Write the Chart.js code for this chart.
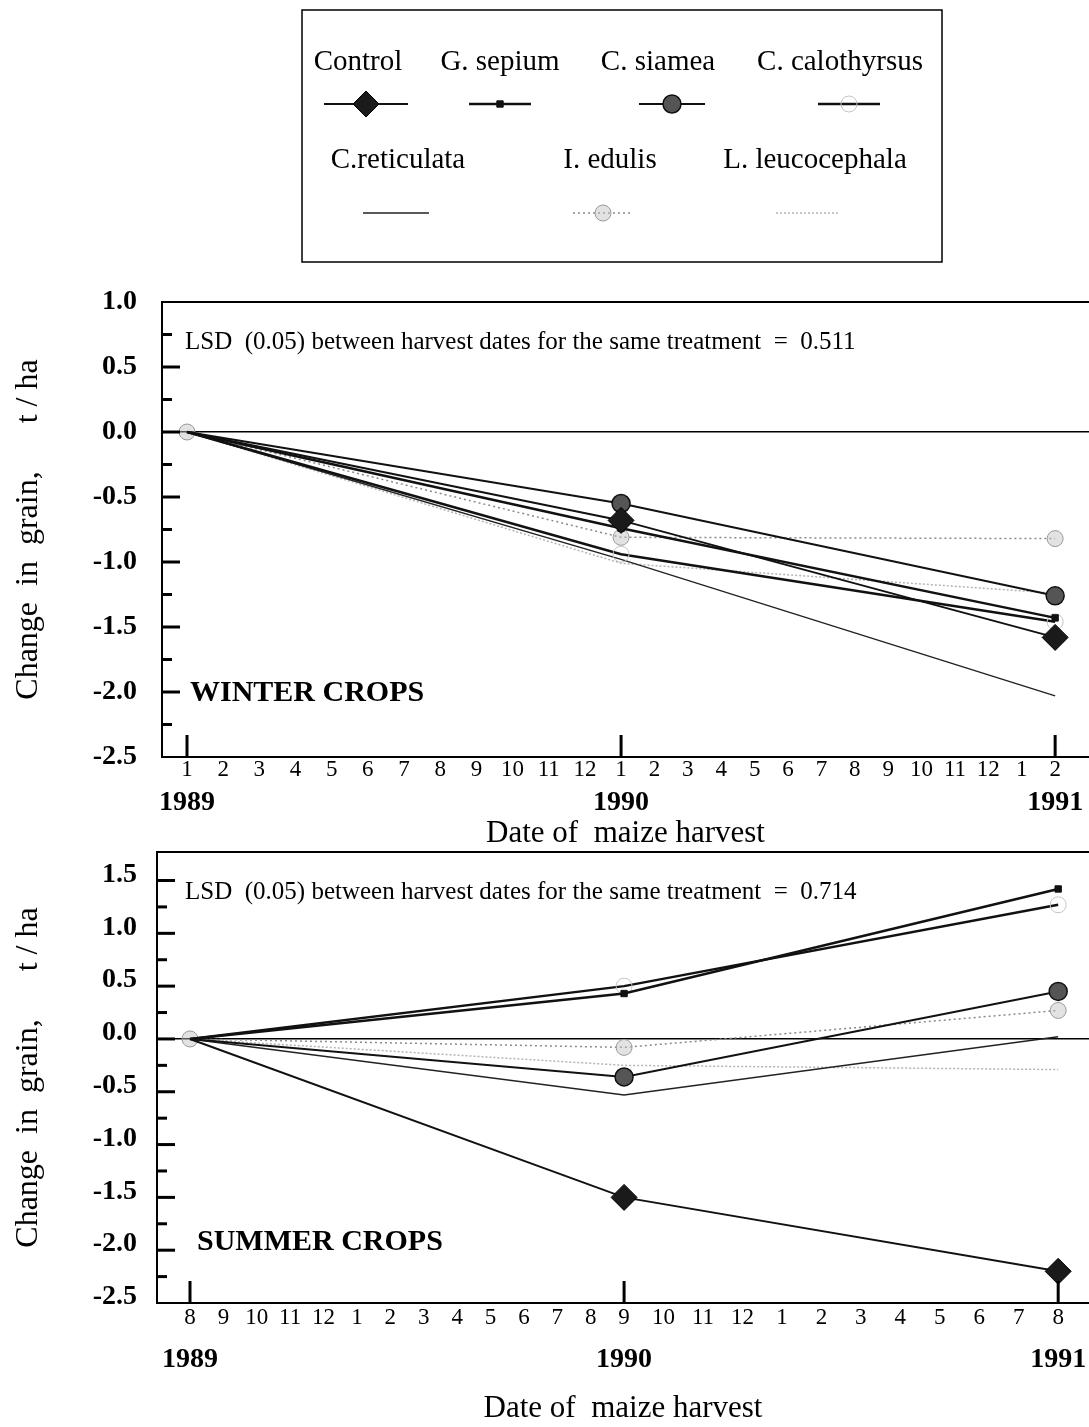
<!DOCTYPE html>
<html><head><meta charset="utf-8">
<script src="https://cdn.jsdelivr.net/npm/chart.js@4/dist/chart.umd.min.js"></script>
<style>
html,body{margin:0;padding:0;background:#fff;}
#wrap{position:relative;width:1089px;height:1427px;overflow:hidden;background:#fff;}
canvas{position:absolute;left:0;}
#c1{top:0;}
#c2{top:812px;}
</style></head><body>
<div id="wrap">
<canvas id="c1" width="1089" height="852"></canvas>
<canvas id="c2" width="1089" height="615"></canvas>
</div>
<script>
// ---------- DATA ----------
const seriesNames = ['Control','G. sepium','C. siamea','C. calothyrsus','C.reticulata','I. edulis','L. leucocephala'];
const harvestIndex = [0, 1, 2];
const yearLabels = ['1989', '1990', '1991'];

// Winter crops: change in grain (t/ha) at harvests 1989, 1990, 1991
const winterControl       = [0, -0.68, -1.58];
const winterGSepium       = [0, -0.74, -1.43];
const winterCSiamea       = [0, -0.55, -1.26];
const winterCCalothyrsus  = [0, -0.94, -1.46];
const winterCReticulata   = [0, -0.98, -2.03];
const winterIEdulis       = [0, -0.81, -0.82];
const winterLLeucocephala = [0, -1.01, -1.24];

// Summer crops
const summerControl       = [0, -1.50, -2.20];
const summerGSepium       = [0, 0.43, 1.42];
const summerCSiamea       = [0, -0.36, 0.45];
const summerCCalothyrsus  = [0, 0.50, 1.27];
const summerCReticulata   = [0, -0.53, 0.02];
const summerIEdulis       = [0, -0.08, 0.27];
const summerLLeucocephala = [0, -0.25, -0.29];

// Month tick labels (two spans between the three harvests)
const winterMonthsSpan1 = ['1','2','3','4','5','6','7','8','9','10','11','12'];
const winterMonthsSpan2 = ['1','2','3','4','5','6','7','8','9','10','11','12','1','2'];
const summerMonthsSpan1 = ['8','9','10','11','12','1','2','3','4','5','6','7','8'];
const summerMonthsSpan2 = ['9','10','11','12','1','2','3','4','5','6','7','8'];

const winterLSD = 'LSD  (0.05) between harvest dates for the same treatment  =  0.511';
const summerLSD = 'LSD  (0.05) between harvest dates for the same treatment  =  0.714';

// ---------- STYLES ----------
const seriesStyles = [
  {color:'#111', width:2,   dash:[], point:'rectRot', r:13, fill:'#1a1a1a', pBorder:'#000', pbw:1, first:false},
  {color:'#111', width:2.5, dash:[], point:'rect',    r:4.5, fill:'#111', pBorder:'#111', pbw:1, first:false},
  {color:'#111', width:2,   dash:[], point:'circle',  r:9, fill:'#555', pBorder:'#111', pbw:1.5, first:false},
  {color:'#111', width:2.5, dash:[], point:'circle',  r:8, fill:'rgba(0,0,0,0)', pBorder:'#c4c4c4', pbw:1, first:false},
  {color:'#222', width:1.5, dash:[], point:'circle',  r:0, fill:'#222', pBorder:'#222', pbw:0, first:false},
  {color:'#8a8a8a', width:1.5, dash:[2,3], point:'circle', r:8, fill:'rgba(190,190,190,0.45)', pBorder:'#9a9a9a', pbw:1, first:true},
  {color:'#b4b4b4', width:1.5, dash:[2,2], point:'circle', r:0, fill:'#b4b4b4', pBorder:'#b4b4b4', pbw:0, first:false}
];

Chart.defaults.font.family = "'Liberation Serif', 'Times New Roman', serif";
Chart.defaults.color = '#000';

function monthTicks(span1, span2) {
  const pos = [], lab = [];
  span1.forEach((m, k) => { pos.push(k / span1.length); lab.push(m); });
  span2.forEach((m, k) => { pos.push(1 + k / (span2.length - 1)); lab.push(m); });
  return {pos, lab};
}

function buildDatasets(seriesValues) {
  return seriesValues.map((vals, i) => {
    const s = seriesStyles[i];
    return {
      label: seriesNames[i],
      data: vals.map((v, j) => ({x: harvestIndex[j], y: v})),
      borderColor: s.color,
      borderWidth: s.width,
      borderDash: s.dash,
      pointStyle: s.point,
      pointRadius: ctx => (ctx.dataIndex === 0 && !s.first) ? 0 : s.r,
      pointBackgroundColor: s.fill,
      pointBorderColor: s.pBorder,
      pointBorderWidth: s.pbw,
      showLine: true,
      fill: false,
      tension: 0,
      clip: false,
      _style: s
    };
  });
}

// inner ticks, top border, notes
const framePlugin = {
  id: 'frame',
  afterDraw(chart, args, opts) {
    const ctx = chart.ctx, a = chart.chartArea;
    const y = chart.scales.y, x = chart.scales.x;
    ctx.save();
    ctx.strokeStyle = '#000';
    ctx.lineWidth = 2;
    ctx.beginPath(); ctx.moveTo(a.left, a.top); ctx.lineTo(a.right, a.top); ctx.stroke();
    ctx.lineWidth = 3;
    const n = Math.round((y.max - y.min) / 0.25);
    for (let k = 1; k <= n; k++) {
      const v = y.min + k * 0.25;
      if (v >= y.max - 0.05) break;
      const py = y.getPixelForValue(v);
      const len = (k % 2 === 0) ? 18 : 10;
      ctx.beginPath(); ctx.moveTo(a.left, py); ctx.lineTo(a.left + len, py); ctx.stroke();
    }
    harvestIndex.forEach(h => {
      const px = x.getPixelForValue(h);
      ctx.beginPath(); ctx.moveTo(px, a.bottom); ctx.lineTo(px, a.bottom - 22); ctx.stroke();
    });
    ctx.fillStyle = '#000';
    ctx.textBaseline = 'middle';
    ctx.textAlign = 'left';
    ctx.font = "25px 'Liberation Serif'";
    ctx.fillText(opts.lsd, a.left + opts.lsdDx, a.top + 40);
    ctx.font = "bold 30px 'Liberation Serif'";
    ctx.fillText(opts.crop, a.left + opts.cropDx, a.bottom - opts.cropDy);
    ctx.restore();
  }
};

const legendPlugin = {
  id: 'boxLegend',
  afterDraw(chart) {
    const ctx = chart.ctx;
    ctx.save();
    ctx.strokeStyle = '#000'; ctx.lineWidth = 1.5;
    ctx.strokeRect(302, 10, 640, 252);
    const rows = [
      {ty: 62,  sy: 104, tx: [358, 500, 658, 840], sx: [366, 500, 672, 849], half: [42, 31, 33, 31], idx: [0,1,2,3]},
      {ty: 160, sy: 213, tx: [398, 610, 815],      sx: [396, 603, 808],      half: [33, 30, 32],     idx: [4,5,6]}
    ];
    ctx.font = "29px 'Liberation Serif'";
    ctx.textAlign = 'center'; ctx.textBaseline = 'middle';
    rows.forEach(row => {
      row.idx.forEach((di, k) => {
        const ds = chart.data.datasets[di], s = ds._style;
        ctx.fillStyle = '#000';
        ctx.fillText(ds.label, row.tx[k], row.ty);
        ctx.strokeStyle = s.color; ctx.lineWidth = s.width; ctx.setLineDash(s.dash);
        ctx.beginPath(); ctx.moveTo(row.sx[k] - row.half[k], row.sy); ctx.lineTo(row.sx[k] + row.half[k], row.sy); ctx.stroke();
        ctx.setLineDash([]);
        if (s.r > 0) {
          ctx.fillStyle = s.fill; ctx.strokeStyle = s.pBorder; ctx.lineWidth = s.pbw;
          Chart.helpers.drawPoint(ctx, {pointStyle: s.point, rotation: 0, radius: s.r, borderWidth: s.pbw}, row.sx[k], row.sy);
        }
      });
    });
    ctx.restore();
  }
};

function makeChart(id, seriesValues, o) {
  const mt = monthTicks(o.span1, o.span2);
  return new Chart(document.getElementById(id), {
    type: 'scatter',
    data: {datasets: buildDatasets(seriesValues)},
    options: {
      responsive: false, animation: false, events: [],
      layout: {autoPadding: false, padding: {top: o.padTop, left: 0, right: 0, bottom: 0}},
      plugins: {legend: {display: false}, tooltip: {enabled: false},
        frame: {lsd: o.lsd, crop: o.crop, lsdDx: o.lsdDx, cropDx: o.cropDx, cropDy: o.cropDy}},
      scales: {
        x: {type: 'linear', position: 'bottom', min: o.xmin, max: o.xmax,
          afterBuildTicks: s => { s.ticks = mt.pos.map(v => ({value: v})); },
          afterFit: s => { s.height = 30; s.paddingLeft = 0; s.paddingRight = 0; },
          ticks: {autoSkip: false, maxRotation: 0, minRotation: 0, padding: o.monthPad, font: {size: 23},
                  callback: (v, i) => mt.lab[i]},
          grid: {display: false, drawTicks: false}, border: {display: true, color: '#000', width: 2}},
        x2: {type: 'linear', position: 'bottom', min: o.xmin, max: o.xmax,
          afterBuildTicks: s => { s.ticks = harvestIndex.map(v => ({value: v})); },
          afterFit: s => { s.height = o.x2h; s.paddingLeft = 0; s.paddingRight = 0; },
          ticks: {autoSkip: false, maxRotation: 0, minRotation: 0, padding: o.yearPad, font: {size: 28, weight: 'bold'},
                  callback: (v, i) => yearLabels[i]},
          grid: {display: false, drawTicks: false}, border: {display: false},
          title: {display: true, text: 'Date of  maize harvest', font: {size: 31}, padding: {top: 0, bottom: 0}}},
        y: {type: 'linear', position: 'left', min: -2.5, max: o.ymax,
          afterFit: s => { s.width = o.yw; s.paddingTop = 0; s.paddingBottom = 0; },
          ticks: {stepSize: 0.5, includeBounds: false, padding: o.yPad, labelOffset: o.yLabelOffset,
                  font: {size: 28, weight: 'bold'},
                  callback: v => Number(v).toFixed(1)},
          grid: {drawTicks: false, lineWidth: 1.5,
                 color: c => (c.tick && Math.abs(c.tick.value) < 1e-9) ? '#000' : 'rgba(0,0,0,0)'},
          border: {display: true, color: '#000', width: 2},
          title: {display: true, text: 'Change  in  grain,      t / ha', font: {size: 32}, padding: {top: 9, bottom: 0}}}
      }
    },
    plugins: o.extraPlugins.concat([framePlugin])
  });
}

makeChart('c1',
  [winterControl, winterGSepium, winterCSiamea, winterCCalothyrsus, winterCReticulata, winterIEdulis, winterLLeucocephala],
  {span1: winterMonthsSpan1, span2: winterMonthsSpan2, xmin: -0.0576, xmax: 2.078, ymax: 1.0,
   padTop: 302, yw: 162, yPad: 25, yLabelOffset: 0, monthPad: -1, yearPad: -1, x2h: 65,
   lsd: winterLSD, crop: 'WINTER CROPS', lsdDx: 23, cropDx: 28, cropDy: 64, extraPlugins: [legendPlugin]});

makeChart('c2',
  [summerControl, summerGSepium, summerCSiamea, summerCCalothyrsus, summerCReticulata, summerIEdulis, summerLLeucocephala],
  {span1: summerMonthsSpan1, span2: summerMonthsSpan2, xmin: -0.076, xmax: 2.071, ymax: 1.77,
   padTop: 40, yw: 157, yPad: 20, yLabelOffset: -6, monthPad: 1, yearPad: 10, x2h: 94,
   lsd: summerLSD, crop: 'SUMMER CROPS', lsdDx: 28, cropDx: 40, cropDy: 61, extraPlugins: []});
</script>
</body></html>
